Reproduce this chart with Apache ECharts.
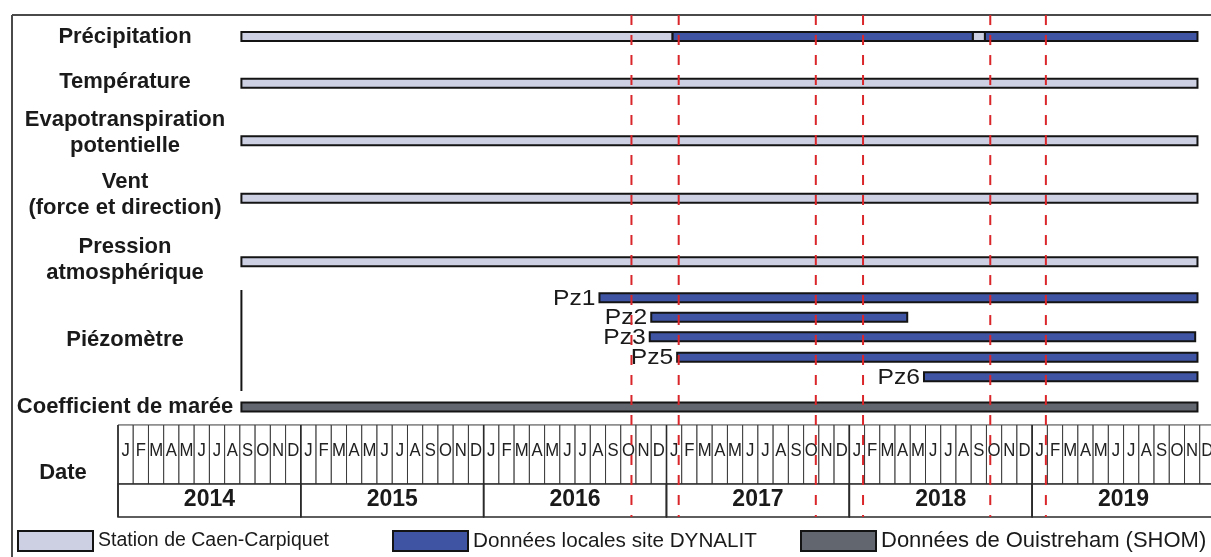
<!DOCTYPE html>
<html><head><meta charset="utf-8">
<script src="https://cdn.jsdelivr.net/npm/echarts@6/dist/echarts.min.js"></script>
<style>html,body{margin:0;padding:0;background:#fff}#c{width:1211px;height:557px}</style>
</head><body><div id="c"></div>
<script>
// ---------------- DATA (time in months since Jan 2014) ----------------
const rowNames = ['Précipitation','Température','Evapotranspiration\npotentielle','Vent\n(force et direction)','Pression\natmosphérique','Piézomètre','Coefficient de marée'];
const piezoNames = ['Pz1','Pz2','Pz3','Pz5','Pz6'];
const monthLetters = ['J','F','M','A','M','J','J','A','S','O','N','D'];
const years = ['2014','2015','2016','2017','2018','2019'];
const sourceNames = ['Station de Caen-Carpiquet','Données locales site DYNALIT','Données de Ouistreham (SHOM)'];
// periods: [row, startMonth, endMonth]
const caenPeriods = [
  ['Précipitation', 8.1, 36.4],
  ['Précipitation', 56.1, 56.9],
  ['Température', 8.1, 70.85],
  ['Evapotranspiration\npotentielle', 8.1, 70.85],
  ['Vent\n(force et direction)', 8.1, 70.85],
  ['Pression\natmosphérique', 8.1, 70.85]
];
const dynalitPeriods = [
  ['Précipitation', 36.4, 56.1],
  ['Précipitation', 56.9, 70.85],
  ['Pz1', 31.6, 70.85],
  ['Pz2', 35.0, 51.8],
  ['Pz3', 34.9, 70.7],
  ['Pz5', 36.7, 70.85],
  ['Pz6', 52.9, 70.85]
];
const shomPeriods = [
  ['Coefficient de marée', 8.1, 70.85]
];
const campaignMonths = [33.7, 36.8, 45.8, 48.9, 57.25, 60.9];

// ---------------- LAYOUT (lanes on the vertical axis) ----------------
const barLane = {
  'Précipitation':1.0,'Température':3.4,'Evapotranspiration\npotentielle':6.35,
  'Vent\n(force et direction)':9.3,'Pression\natmosphérique':12.55,
  'Pz1':14.4,'Pz2':15.4,'Pz3':16.4,'Pz5':17.45,'Pz6':18.45,'Coefficient de marée':20.0
};
const labelLane = {
  'Précipitation':1.0,'Température':3.35,'Evapotranspiration\npotentielle':5.95,
  'Vent\n(force et direction)':9.15,'Pression\natmosphérique':12.45,
  'Piézomètre':16.55,'Coefficient de marée':20.0
};
const dateLane = 23.38;
const monthTop = 20.92, monthBottom = 23.95, yearBottom = 25.64, monthTextLane = 22.25, yearTextLane = 24.77;
const FONT = "'Liberation Sans', Arial, Helvetica, sans-serif";
const colors = ['#cdd0e3', '#3f55a3', '#62666f'];

const labelValues = rowNames.map(n => labelLane[n]);
const labelText = {};
rowNames.forEach(n => { labelText[String(labelLane[n])] = n; });

function toData(periods){ return periods.map(p => [barLane[p[0]], p[1], p[2], p[0]]); }

function barRender(periods, withLabel){
  return function(params, api){
    const s = api.coord([api.value(1), api.value(0)]);
    const e = api.coord([api.value(2), api.value(0)]);
    const h = 9;
    const children = [{
      type:'rect',
      shape:{x:s[0], y:s[1]-h/2, width:e[0]-s[0], height:h},
      style:{fill: api.visual('color'), stroke:'#141414', lineWidth:2}
    }];
    const name = periods[params.dataIndex][0];
    if (withLabel && piezoNames.indexOf(name) >= 0) {
      children.push({
        type:'text', x:s[0]-4, y:s[1]+1, scaleX:1.12,
        style:{text:name, align:'right', verticalAlign:'middle', font:'22px '+FONT, fill:'#1a1a1a'}
      });
    }
    return {type:'group', children};
  };
}

const monthData = [];
years.forEach((y, yi) => monthLetters.forEach((m, mi) => monthData.push([yi*12+mi, m])));
const yearData = years.map((y, i) => [i*12, y]);

const chart = echarts.init(document.getElementById('c'), null, {renderer:'canvas'});
chart.setOption({
  backgroundColor:'#ffffff',
  animation:false,
  grid:{left:118, top:17, width:1097, height:507, containLabel:false, outerBoundsMode:'none'},
  xAxis:{type:'value', min:0, max:72, show:false},
  yAxis:[{
    type:'value', min:0, max:26, inverse:true,
    axisLine:{show:false}, axisTick:{show:false}, splitLine:{show:false},
    axisLabel:{
      customValues: labelValues, margin:-7, align:'center', verticalAlign:'middle',
      formatter: v => labelText[String(v)] || '',
      fontFamily:FONT, fontWeight:'bold', fontSize:22, lineHeight:26, color:'#1a1a1a'
    }
  },{
    type:'value', min:0, max:26, inverse:true, position:'left',
    axisLine:{show:false}, axisTick:{show:false}, splitLine:{show:false},
    axisLabel:{
      customValues:[dateLane], margin:55, align:'center', verticalAlign:'middle',
      formatter: () => 'Date',
      fontFamily:FONT, fontWeight:'bold', fontSize:22, color:'#1a1a1a'
    }
  }],
  legend: sourceNames.map((n, i) => ({
    data:[n], left:[17, 392, 800][i], top:530, padding:0, icon:'rect',
    itemWidth:75, itemHeight:20, selectedMode:false,
    itemStyle:{borderColor:'#141414', borderWidth:2},
    textStyle:{fontFamily:FONT, fontSize:[19.5, 20.7, 22][i], color:'#1a1a1a'}
  })),
  graphic:[
    {type:'line', shape:{x1:12, y1:15, x2:1211, y2:15}, style:{stroke:'#4a4a4a', lineWidth:2}, z:1},
    {type:'line', shape:{x1:12, y1:15, x2:12, y2:557}, style:{stroke:'#4a4a4a', lineWidth:2}, z:1}
  ],
  series:[
    { // month cells
      type:'custom', name:'months', silent:true, z:1,
      data: monthData,
      renderItem:(params, api) => {
        const i = api.value(0);
        const a = api.coord([i, monthTop]);
        const b = api.coord([i+1, monthBottom]);
        const t = api.coord([i+0.5, monthTextLane]);
        return {type:'group', children:[
          {type:'rect', shape:{x:a[0], y:a[1], width:b[0]-a[0], height:b[1]-a[1]}, style:{fill:'#fff', stroke:'#3a3a3a', lineWidth:1}},
          {type:'text', x:t[0], y:t[1], scaleX:0.88, style:{text:monthData[params.dataIndex][1], align:'center', verticalAlign:'middle', font:'19px '+FONT, fill:'#222'}}
        ]};
      }
    },
    { // year cells
      type:'custom', name:'years', silent:true, z:2,
      data: yearData,
      renderItem:(params, api) => {
        const i = api.value(0);
        const a = api.coord([i, monthTop]);
        const m = api.coord([i, monthBottom]);
        const b = api.coord([i+12, yearBottom]);
        const t = api.coord([i+6, yearTextLane]);
        return {type:'group', children:[
          {type:'rect', shape:{x:a[0], y:m[1], width:b[0]-a[0], height:b[1]-m[1]}, style:{fill:'#fff', stroke:'#2a2a2a', lineWidth:1.5}},
          {type:'line', shape:{x1:a[0], y1:a[1], x2:a[0], y2:b[1]}, style:{stroke:'#2a2a2a', lineWidth:1.6}},
          {type:'text', x:t[0], y:t[1], style:{text:yearData[params.dataIndex][1], align:'center', verticalAlign:'middle', font:'bold 23px '+FONT, fill:'#1a1a1a'}}
        ]};
      }
    },
    {
      type:'custom', name:sourceNames[0], z:3,
      itemStyle:{color:colors[0]},
      data: toData(caenPeriods), encode:{x:[1,2], y:0},
      renderItem: barRender(caenPeriods, false)
    },
    {
      type:'custom', name:sourceNames[1], z:3,
      itemStyle:{color:colors[1]},
      data: toData(dynalitPeriods), encode:{x:[1,2], y:0},
      renderItem: barRender(dynalitPeriods, true)
    },
    {
      type:'custom', name:sourceNames[2], z:3,
      itemStyle:{color:colors[2]},
      data: toData(shomPeriods), encode:{x:[1,2], y:0},
      renderItem: barRender(shomPeriods, false)
    },
    { // piezometer group bracket
      type:'custom', name:'bracket', silent:true, z:3,
      data:[[caenPeriods[0][1]]],
      renderItem:(params, api) => {
        const a = api.coord([api.value(0), 14.0]);
        const b = api.coord([api.value(0), 19.18]);
        return {type:'line', shape:{x1:a[0], y1:a[1], x2:b[0], y2:b[1]}, style:{stroke:'#141414', lineWidth:2}};
      }
    },
    { // field campaigns
      type:'custom', name:'campaigns', silent:true, z:5,
      data: campaignMonths.map(m => [m]),
      renderItem:(params, api) => {
        const a = api.coord([api.value(0), -0.1]);
        const b = api.coord([api.value(0), yearBottom]);
        return {type:'line', shape:{x1:a[0], y1:a[1], x2:b[0], y2:b[1]}, style:{stroke:'#d9262b', lineWidth:2, lineDash:[10,10]}};
      }
    }
  ]
});
</script>
</body></html>
